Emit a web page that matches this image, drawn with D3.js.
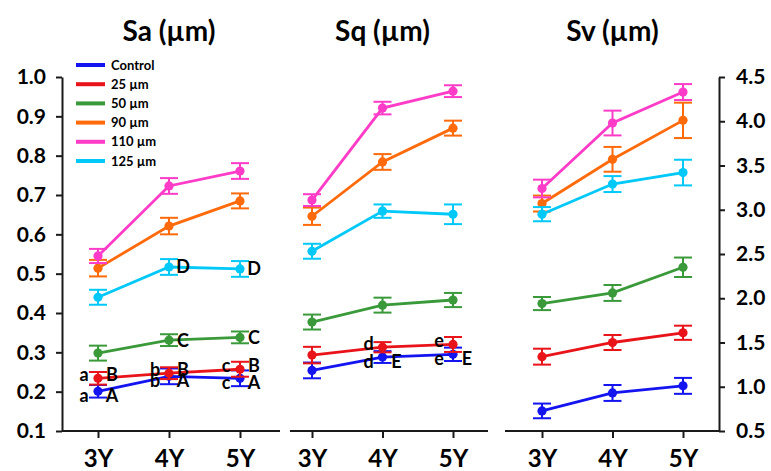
<!DOCTYPE html>
<html>
<head>
<meta charset="utf-8">
<script src="https://cdn.jsdelivr.net/npm/d3@7"></script>
<style>
  body { margin: 0; background: #fff; }
  svg { display: block; font-family: Lato, "Open Sans", sans-serif; }
</style>
</head>
<body>
<svg id="chart" width="771" height="471"></svg>
<script>
// data
let years = ["3Y", "4Y", "5Y"];
let seriesNames = ["Control", "25 µm", "50 µm", "90 µm", "110 µm", "125 µm"];
let leftTicks = [0.1, 0.2, 0.3, 0.4, 0.5, 0.6, 0.7, 0.8, 0.9, 1.0];
let rightTicks = [0.5, 1.0, 1.5, 2.0, 2.5, 3.0, 3.5, 4.0, 4.5];

let saMean = [
    [0.201, 0.239, 0.234],
    [0.234, 0.247, 0.257],
    [0.298, 0.331, 0.338],
    [0.514, 0.621, 0.685],
    [0.545, 0.723, 0.761],
    [0.440, 0.517, 0.512]
];
let saErr = [
    [0.016, 0.020, 0.020],
    [0.016, 0.015, 0.019],
    [0.019, 0.015, 0.015],
    [0.021, 0.021, 0.019],
    [0.018, 0.020, 0.020],
    [0.019, 0.020, 0.020]
];
let sqMean = [
    [0.254, 0.288, 0.295],
    [0.293, 0.313, 0.320],
    [0.377, 0.420, 0.433],
    [0.646, 0.784, 0.870],
    [0.687, 0.921, 0.964],
    [0.557, 0.659, 0.651]
];
let sqErr = [
    [0.020, 0.015, 0.017],
    [0.021, 0.013, 0.019],
    [0.019, 0.019, 0.018],
    [0.022, 0.020, 0.019],
    [0.015, 0.016, 0.015],
    [0.019, 0.017, 0.025]
];
let svMean = [
    [0.727, 0.93, 1.01],
    [1.34, 1.50, 1.61],
    [1.94, 2.06, 2.35],
    [3.07, 3.57, 4.01],
    [3.24, 3.98, 4.33],
    [2.95, 3.29, 3.42]
];
let svErr = [
    [0.083, 0.090, 0.090],
    [0.090, 0.085, 0.080],
    [0.074, 0.090, 0.110],
    [0.090, 0.140, 0.200],
    [0.100, 0.140, 0.090],
    [0.080, 0.090, 0.145]
];

// significance letters
let letterNotes = [
    {panel: "Sa", series: "25 µm", year: "3Y", side: "left", text: "a"},
    {panel: "Sa", series: "Control", year: "3Y", side: "left", text: "a"},
    {panel: "Sa", series: "25 µm", year: "3Y", side: "right", text: "B"},
    {panel: "Sa", series: "Control", year: "3Y", side: "right", text: "A"},
    {panel: "Sa", series: "25 µm", year: "4Y", side: "left", text: "b"},
    {panel: "Sa", series: "Control", year: "4Y", side: "left", text: "b"},
    {panel: "Sa", series: "25 µm", year: "4Y", side: "right", text: "B"},
    {panel: "Sa", series: "Control", year: "4Y", side: "right", text: "A"},
    {panel: "Sa", series: "25 µm", year: "5Y", side: "left", text: "c"},
    {panel: "Sa", series: "Control", year: "5Y", side: "left", text: "c"},
    {panel: "Sa", series: "25 µm", year: "5Y", side: "right", text: "B"},
    {panel: "Sa", series: "Control", year: "5Y", side: "right", text: "A"},
    {panel: "Sa", series: "50 µm", year: "4Y", side: "right", text: "C"},
    {panel: "Sa", series: "50 µm", year: "5Y", side: "right", text: "C"},
    {panel: "Sa", series: "125 µm", year: "4Y", side: "right", text: "D"},
    {panel: "Sa", series: "125 µm", year: "5Y", side: "right", text: "D"},
    {panel: "Sq", series: "25 µm", year: "4Y", side: "left", text: "d"},
    {panel: "Sq", series: "Control", year: "4Y", side: "left", text: "d"},
    {panel: "Sq", series: "Control", year: "4Y", side: "right", text: "E"},
    {panel: "Sq", series: "25 µm", year: "5Y", side: "left", text: "e"},
    {panel: "Sq", series: "Control", year: "5Y", side: "left", text: "e"},
    {panel: "Sq", series: "Control", year: "5Y", side: "right", text: "E"}
];

let colors = ["#1414f0", "#e8141a", "#3a9a3a", "#ff6a0a", "#ff3cc8", "#00c8f8"];
let axisColor = "#1a1a1a";

let svg = d3.select("#chart");
svg.append("rect").attr("width", 771).attr("height", 471).attr("fill", "#fff");

let yTop = 77, yBottom = 431;

let yLeft = d3.scaleLinear().domain([0.1, 1.0]).range([yBottom, yTop]);
let yRight = d3.scaleLinear().domain([0.5, 4.5]).range([yBottom, yTop]);

let panels = [
    {name: "Sa", title: "Sa (µm)", mean: saMean, err: saErr, y: yLeft, x0: 62, x1: 280, p0: 98, p1: 240},
    {name: "Sq", title: "Sq (µm)", mean: sqMean, err: sqErr, y: yLeft, x0: 290, x1: 488, p0: 312, p1: 453},
    {name: "Sv", title: "Sv (µm)", mean: svMean, err: svErr, y: yRight, x0: 505, x1: 719, p0: 542, p1: 683}
];

panels.forEach(function(p) {
    let x = d3.scalePoint().domain(years).range([p.p0, p.p1]);
    p.x = x;

    // baseline
    svg.append("line")
        .attr("x1", p.x0).attr("x2", p.x1)
        .attr("y1", yBottom).attr("y2", yBottom)
        .style("stroke", axisColor)
        .style("stroke-width", 2);

    let xAxis = svg.append("g")
        .attr("transform", "translate(0," + yBottom + ")")
        .call(d3.axisBottom(x).tickSize(7).tickPadding(12));
    xAxis.select(".domain").remove();
    xAxis.selectAll("line").style("stroke", axisColor).style("stroke-width", 2);
    xAxis.selectAll("text")
        .style("font-family", "Lato")
        .style("font-size", "24px")
        .style("font-weight", "bold")
        .style("fill", "#000");

    // title
    svg.append("text")
        .attr("x", (p.p0 + p.p1) / 2)
        .attr("y", 41)
        .attr("text-anchor", "middle")
        .style("font-size", "28px")
        .style("font-weight", "bold")
        .text(p.title);

    let line = d3.line()
        .x(function(d, i) { return x(years[i]); })
        .y(function(d) { return p.y(d); });

    seriesNames.forEach(function(name, s) {
        let g = svg.append("g");
        let pts = p.mean[s].map(function(v, i) {
            return {year: years[i], v: v, e: p.err[s][i]};
        });

        g.append("path")
            .datum(p.mean[s])
            .attr("fill", "none")
            .attr("stroke", colors[s])
            .attr("stroke-width", 2.8)
            .attr("d", line);

        // error bars
        g.selectAll(".eb")
            .data(pts)
            .join("line")
            .attr("x1", function(d) { return x(d.year); })
            .attr("x2", function(d) { return x(d.year); })
            .attr("y1", function(d) { return p.y(d.v - d.e); })
            .attr("y2", function(d) { return p.y(d.v + d.e); })
            .attr("stroke", colors[s])
            .attr("stroke-width", 2);
        [-1, 1].forEach(function(sign) {
            g.selectAll(".cap")
                .data(pts)
                .join("line")
                .attr("x1", function(d) { return x(d.year) - 9; })
                .attr("x2", function(d) { return x(d.year) + 9; })
                .attr("y1", function(d) { return p.y(d.v + sign * d.e); })
                .attr("y2", function(d) { return p.y(d.v + sign * d.e); })
                .attr("stroke", colors[s])
                .attr("stroke-width", 2);
        });

        g.selectAll("circle")
            .data(pts)
            .join("circle")
            .attr("cx", function(d) { return x(d.year); })
            .attr("cy", function(d) { return p.y(d.v); })
            .attr("r", 4.6)
            .attr("fill", colors[s]);
    });
});

// letters
letterNotes.forEach(function(n) {
    let p = panels.find(function(q) { return q.name === n.panel; });
    let s = seriesNames.indexOf(n.series);
    let i = years.indexOf(n.year);
    let nudge = n.series === "Control" ? 4 : (n.series === "25 µm" ? -4 : 0);
    svg.append("text")
        .attr("x", p.x(n.year) + (n.side === "left" ? -14 : 14))
        .attr("y", p.y(p.mean[s][i]) + nudge)
        .attr("dy", "0.36em")
        .attr("text-anchor", "middle")
        .style("font-size", "18px")
        .style("font-weight", "bold")
        .text(n.text);
});

// y axes
let leftAxis = svg.append("g")
    .attr("transform", "translate(62,0)")
    .call(d3.axisLeft(yLeft).tickValues(leftTicks).tickFormat(d3.format(".1f")).tickSize(6).tickSizeOuter(0).tickPadding(10));
let rightAxis = svg.append("g")
    .attr("transform", "translate(719,0)")
    .call(d3.axisRight(yRight).tickValues(rightTicks).tickFormat(d3.format(".1f")).tickSize(6).tickSizeOuter(0).tickPadding(11));
[leftAxis, rightAxis].forEach(function(a) {
    a.selectAll("path, line").style("stroke", axisColor).style("stroke-width", 2);
    a.selectAll("text")
        .style("font-family", "Lato")
        .style("font-size", "21px")
        .style("font-weight", "bold")
        .style("fill", "#000");
});

// legend
let legend = svg.append("g").attr("transform", "translate(76,65)");
seriesNames.forEach(function(name, s) {
    let row = legend.append("g").attr("transform", "translate(0," + (s * 19.2) + ")");
    row.append("line")
        .attr("x1", 0).attr("x2", 29)
        .attr("stroke", colors[s])
        .attr("stroke-width", 4);
    row.append("text")
        .attr("x", 35)
        .attr("dy", "0.35em")
        .style("font-size", "13px")
        .style("font-weight", "bold")
        .text(name);
});
</script>
</body>
</html>
